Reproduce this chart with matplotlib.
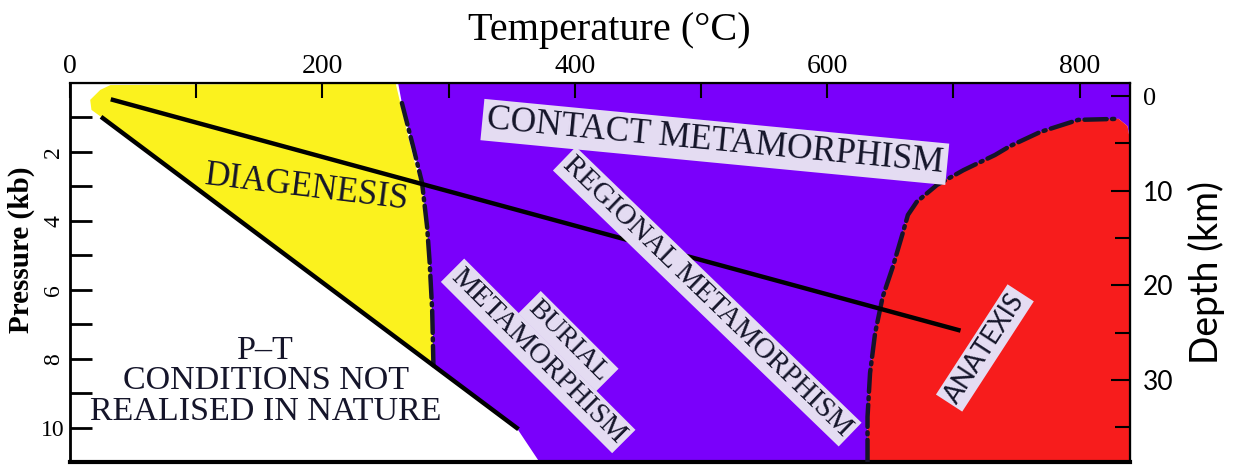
import matplotlib
matplotlib.use("Agg")
import matplotlib.pyplot as plt

SERIF = "Liberation Serif"
SANS = "Lato"

# axis ticks
temp_ticks = [0, 200, 400, 600, 800]
temp_minor = [100, 300, 500, 700]
pressure_ticks = [2, 4, 6, 8, 10]
pressure_minor = [1, 3, 5, 7, 9]
depth_ticks = [0, 10, 20, 30]
depth_minor = [5, 15, 25, 35]

# straight gradients (temperature in °C, pressure in kb)
geotherm_t = [34, 704]
geotherm_p = [0.49, 7.17]
limit_t = [26, 354]
limit_p = [1.02, 10.01]

# diagenesis / metamorphism boundary (top to bottom)
diag_t = [260, 263, 272, 279, 283, 285, 287, 288]
diag_p = [0.0, 0.58, 1.86, 2.90, 4.18, 5.20, 6.59, 8.19]

# yellow diagenesis field outline
yellow_t = [32, 258, 270, 279, 283, 285, 287, 288, 26, 17, 16, 24]
yellow_p = [0.06, 0.0, 1.86, 3.11, 4.27, 5.43, 7.17, 8.19, 1.02, 0.78, 0.49, 0.2]

# anatexis boundary (bottom to top)
anat_t = [632, 632, 634, 638, 644, 652, 659, 664, 671, 687, 708, 733, 745,
          769, 799, 831, 838, 840]
anat_p = [11.0, 9.69, 8.42, 7.26, 6.21, 5.34, 4.47, 3.83, 3.45, 2.96, 2.53,
          2.09, 1.83, 1.42, 1.07, 1.04, 1.25, 1.65]

# where the metamorphic field meets the bottom edge
burial_edge_t = 372

# field labels: text, T, P, rotation, size, family, boxed
labels = [
    ("DIAGENESIS", 188, 3.05, -7, 25, SERIF, False),
    ("CONTACT METAMORPHISM", 511, 1.71, -5.5, 25.5, SERIF, True),
    ("REGIONAL METAMORPHISM", 505, 6.2, -44, 21, SERIF, True),
    ("METAMORPHISM", 371, 7.92, -45, 21, SERIF, True),
    ("BURIAL", 395, 7.49, -45, 20, SERIF, True),
    ("ANATEXIS", 725, 7.69, 57, 19, SANS, True),
    ("P\u2013T\nCONDITIONS NOT\nREALISED IN NATURE", 155, 8.65, 0, 24.5, SERIF, False),
]

YELLOW = "#fbf21e"
PURPLE = "#7a00fb"
RED = "#f71c1c"
INK = "#15152a"
BOX = "#e4dcf2"

fig = plt.figure(figsize=(12.45, 4.66), dpi=100)
ax = fig.add_axes([70 / 1245, 4 / 466, 1060 / 1245, 379 / 466])

# Fields
purple_t = [840] + anat_t[::-1] + [burial_edge_t, limit_t[1]] + diag_t[::-1]
purple_p = [0] + anat_p[::-1] + [11.0, limit_p[1]] + diag_p[::-1]
ax.fill(purple_t, purple_p, color=PURPLE, lw=0, zorder=1)
ax.fill(anat_t + [840], anat_p + [11.0], color=RED, lw=0, zorder=1)
ax.fill(yellow_t, yellow_p, color=YELLOW, lw=0, zorder=1)

# Boundaries
dash = dict(color=INK, lw=3.2, dashes=(5, 1.2, 0.5, 1.2),
            dash_capstyle="round", zorder=3)
ax.plot(diag_t[1:], diag_p[1:], **dash)
ax.plot(anat_t[:-2], anat_p[:-2], **dash)
ax.plot(geotherm_t, geotherm_p, color="black", lw=3.2, zorder=3)
ax.plot(limit_t, limit_p, color="black", lw=3.2, zorder=3)

# Labels
for text, t, p, rot, size, family, boxed in labels:
    box = dict(boxstyle="square,pad=0.12", fc=BOX, ec="none") if boxed else None
    ax.text(t, p, text, rotation=rot, fontsize=size, family=family,
            color=INK, ha="center", va="center", linespacing=1.0,
            rotation_mode="anchor", bbox=box, zorder=4)

# Temperature axis on top
ax.set_xlim(0, 840)
ax.set_ylim(11.0, 0)
ax.xaxis.tick_top()
ax.set_xticks(temp_ticks)
ax.set_xticks(temp_minor, minor=True)
ax.set_xticklabels([str(t) for t in temp_ticks], family=SERIF, fontsize=20)
ax.tick_params(axis="x", which="both", direction="in", length=11, width=1.5, pad=3)
ax.xaxis.set_label_position("top")
ax.set_xlabel("Temperature (\u00b0C)", family=SERIF, fontsize=29)
ax.xaxis.set_label_coords(0.509, 1.113)

# Pressure axis
ax.set_yticks(pressure_ticks)
ax.set_yticks(pressure_minor, minor=True)
ax.set_yticklabels([str(p) for p in pressure_ticks], family=SERIF, fontsize=17)
for lbl in ax.get_yticklabels():
    if lbl.get_text() != "10":
        lbl.set_rotation(90)
        lbl.set_va("center")
ax.tick_params(axis="y", which="both", direction="in", length=16, width=2, pad=4)
ax.set_ylabel("Pressure (kb)", family=SERIF, fontsize=21, fontweight="bold")
ax.yaxis.set_label_coords(-0.033, 0.559)

for side, w in (("left", 2.0), ("top", 1.6), ("bottom", 3.0), ("right", 1.6)):
    ax.spines[side].set_linewidth(w)

# Depth axis
ax2 = ax.twinx()
ax2.set_ylim(38.7, -1.4)
ax2.set_yticks(depth_ticks)
ax2.set_yticks(depth_minor, minor=True)
ax2.set_yticklabels([str(d) for d in depth_ticks], family=SANS, fontsize=19)
ax2.get_yticklabels()[0].set_family(SERIF)
ax2.tick_params(axis="y", which="major", direction="in", length=14, width=1.5, pad=9)
ax2.tick_params(axis="y", which="minor", direction="in", length=11, width=1.5)
ax2.set_ylabel("Depth (km)", family=SANS, fontsize=27)
ax2.yaxis.set_label_coords(1.0547, 0.501)

fig.savefig("out.png", dpi=100)
